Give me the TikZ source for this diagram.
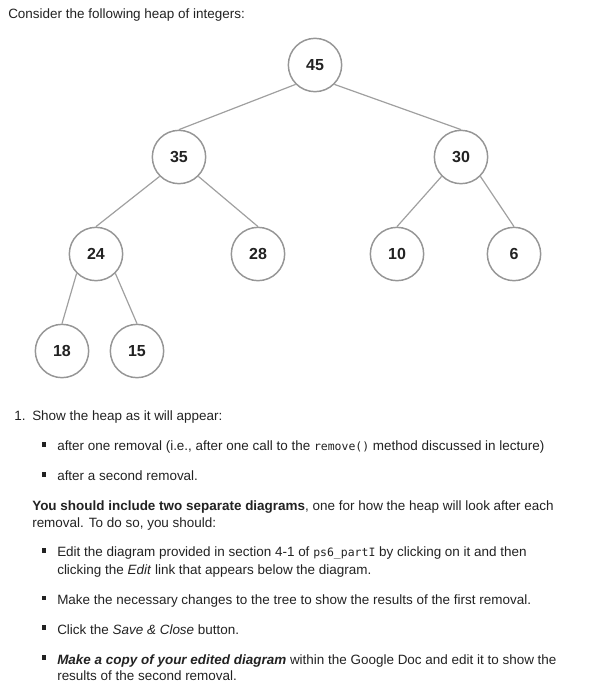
\documentclass[tikz,border=0pt]{standalone}
\usepackage{fontspec}
\setmainfont{Liberation Sans}
\setmonofont{DejaVu Sans Mono}
\usepackage{tikz}
\usetikzlibrary{positioning}
\definecolor{txtgray}{RGB}{34,34,34}
\definecolor{ringgray}{RGB}{150,150,150}
\definecolor{edgegray}{RGB}{160,160,160}
\tikzset{
    heapnode/.style={circle, draw=ringgray, line width=1.1pt, minimum size=40pt, inner sep=0pt,
        font=\fontsize{12}{14}\selectfont\bfseries, text=txtgray},
    heapedge/.style={draw=edgegray, line width=0.9pt},
    bodytext/.style={anchor=base west, inner sep=0pt, font=\fontsize{10.1}{12}\selectfont, text=txtgray},
    sqbullet/.style={rectangle, fill=txtgray, minimum size=3.2pt, inner sep=0pt}
}
\newcommand{\codeword}[1]{{\ttfamily\fontsize{8.6}{10}\selectfont #1}}

\begin{document}
\begin{tikzpicture}[x=0.75pt,y=0.75pt,yscale=-1,xscale=1]
        \useasboundingbox (0,0) rectangle (590,700);
        % Text Node
        \node[bodytext] (intro) at (8,18.3) {Consider the following heap of integers:};
        %Shape: Circles of the heap
        \node[heapnode] (n45) at (315,65) {45};
        \node[heapnode] (n35) at (179,157) {35};
        \node[heapnode] (n30) at (461,157) {30};
        \node[heapnode] (n24) at (96,254) {24};
        \node[heapnode] (n28) at (258,254) {28};
        \node[heapnode] (n10) at (397,254) {10};
        \node[heapnode] (n6) at (514,254) {6};
        \node[heapnode] (n18) at (62,351) {18};
        \node[heapnode] (n15) at (137,351) {15};
        %Straight Lines
        \draw[heapedge] (n45.south west) -- (n35.north);
        \draw[heapedge] (n45.south east) -- (n30.north);
        \draw[heapedge] (n35.south west) -- (n24.north);
        \draw[heapedge] (n35.south east) -- (n28.north);
        \draw[heapedge] (n30.south west) -- (n10.north);
        \draw[heapedge] (n30.south east) -- (n6.north);
        \draw[heapedge] (n24.south west) -- (n18.north);
        \draw[heapedge] (n24.south east) -- (n15.north);
        % Text Node
        \node[bodytext] (num1) at (14,420.7) {1.};
        \node[bodytext] (task) at (32,420.7) {Show the heap as it will appear:};
        \node[sqbullet] (b1) at (44,444.5) {};
        \node[bodytext] (first) at (57,450.7) {after one removal (i.e., after one call to the \codeword{remove()} method discussed in lecture)};
        \node[sqbullet] (b2) at (44,474.5) {};
        \node[bodytext] (second) at (57,480.7) {after a second removal.};
        % Text Node
        \node[bodytext] (incl) at (32,510.7) {\textbf{You should include two separate diagrams}, one for how the heap will look after each};
        \node[bodytext] (incl2) at (32,527.5) {removal. To do so, you should:};
        % Text Node
        \node[sqbullet] (b3) at (44,550.5) {};
        \node[bodytext] (edit) at (57,556.7) {Edit the diagram provided in section 4-1 of \codeword{ps6\_partI} by clicking on it and then};
        \node[bodytext] (edit2) at (57,574) {clicking the \textit{Edit} link that appears below the diagram.};
        \node[sqbullet] (b4) at (44,597.7) {};
        \node[bodytext] (change) at (57,604) {Make the necessary changes to the tree to show the results of the first removal.};
        \node[sqbullet] (b5) at (44,627.5) {};
        \node[bodytext] (save) at (57,634) {Click the \textit{Save \& Close} button.};
        \node[sqbullet] (b6) at (44,657.5) {};
        \node[bodytext] (copy) at (57,664) {\textbf{\textit{Make a copy of your edited diagram}} within the Google Doc and edit it to show the};
        \node[bodytext] (copy2) at (57,680.7) {results of the second removal.};
\end{tikzpicture}
\end{document}
